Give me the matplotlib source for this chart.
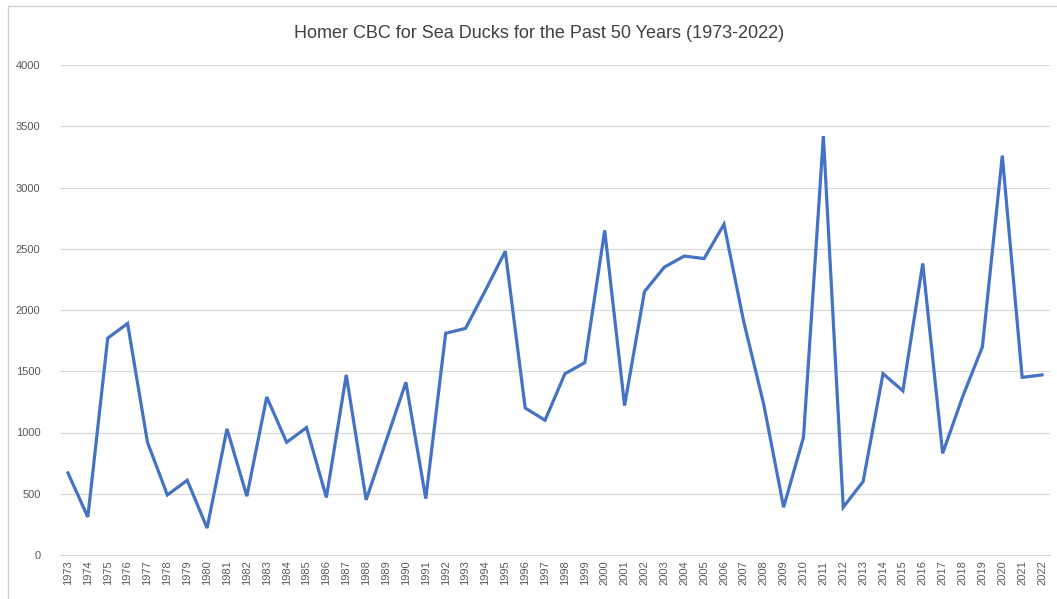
import numpy as np
import matplotlib.pyplot as plt
from matplotlib.patches import Rectangle

years = list(range(1973, 2023))
ducks = [670, 310, 1770, 1890, 920, 490, 610, 220, 1030, 480,
         1290, 920, 1040, 470, 1470, 450, 930, 1410, 460, 1810,
         1850, 2160, 2480, 1200, 1100, 1480, 1570, 2650, 1220, 2150,
         2350, 2440, 2420, 2700, 1900, 1230, 390, 960, 3420, 390,
         600, 1480, 1340, 2380, 830, 1290, 1700, 3260, 1450, 1470]
yticks = [0, 500, 1000, 1500, 2000, 2500, 3000, 3500, 4000]

plt.rcParams['font.family'] = ['Liberation Sans', 'DejaVu Sans']

fig = plt.figure(figsize=(10.57, 5.99), dpi=100)
ax = fig.add_axes([60 / 1057, 1 - 555 / 599, 990 / 1057, 490 / 599])

ax.plot(years, ducks, color='#4472C4', linewidth=2.3, solid_joinstyle='miter')

ax.set_xlim(1972.6, 2022.4)
ax.set_ylim(0, 4000)
ax.set_yticks(yticks)
ax.set_xticks(years)
ax.set_xticklabels([str(y) for y in years], rotation=90)
ax.tick_params(axis='both', length=0, labelsize=8, labelcolor='#595959')
ax.tick_params(axis='x', pad=4)
ax.tick_params(axis='y', pad=14)
ax.grid(axis='y', color='#d9d9d9', linewidth=0.9)
ax.set_axisbelow(True)
for s in ['top', 'right', 'left']:
    ax.spines[s].set_visible(False)
ax.spines['bottom'].set_color('#d9d9d9')

fig.text(0.51, 1 - 33 / 599, 'Homer CBC for Sea Ducks for the Past 50 Years (1973-2022)',
         ha='center', va='center', fontsize=13, color='#404040')

fig.patches.append(Rectangle((8 / 1057, -0.01), 1.1, 1.0, transform=fig.transFigure,
                             fill=False, edgecolor='#d0d0d0', linewidth=1))

fig.savefig('out.png', dpi=100)
